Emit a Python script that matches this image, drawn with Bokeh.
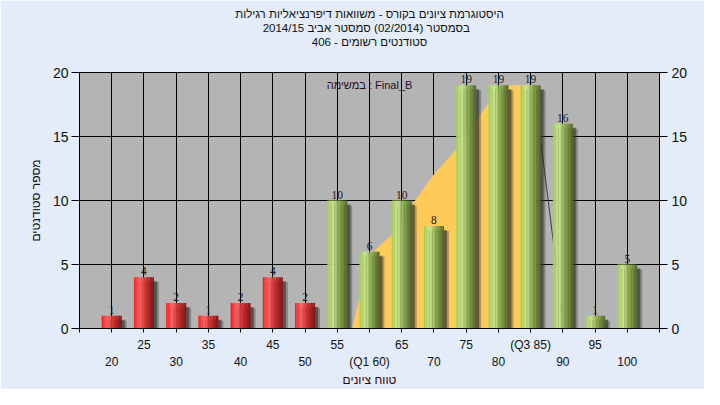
import numpy as np
from bokeh.plotting import figure
from bokeh.models import (ColumnDataSource, LinearAxis, FixedTicker, Title,
                          Label, LabelSet, Range1d)
from bokeh.embed import file_html
from bokeh.resources import INLINE

# ---------------- data ----------------
grades = [20, 25, 30, 35, 40, 45, 50, 55, 60, 65, 70, 75, 80, 85, 90, 95, 100]
counts = [1, 4, 2, 1, 2, 4, 2, 10, 6, 10, 8, 19, 19, 19, 16, 1, 5]
pass_grade = 55
row1_labels = {25: "25", 35: "35", 45: "45", 55: "55", 65: "65", 75: "75",
               85: "(Q3 85)", 95: "95"}
row2_labels = {20: "20", 30: "30", 40: "40", 50: "50", 60: "(Q1 60)", 70: "70",
               80: "80", 90: "90", 100: "100"}
y_ticks = [0, 5, 10, 15, 20]
# inter-quartile band (yellow) and tail line
band_x = [57.3, 60.0, 63.6, 66.8, 69.9, 73.3, 78.3, 81.9, 85.0, 85.0]
band_y = [0.0, 5.7, 7.4, 9.8, 12.0, 13.9, 17.5, 19.0, 19.0, 0.0]
tail_x = [85.5, 90.2]
tail_y = [19.0, 0.0]

title_lines = ["היסטוגרמת ציונים בקורס - משוואות דיפרנציאליות רגילות",
               "בסמסטר  (02/2014)  סמסטר אביב 2014/15",
               "סטודנטים רשומים - 406"]
x_title = "טווח ציונים"
y_title = "מספר סטודנטים"
note_text = "במשימה : Final_B"

FONT = "Liberation Sans"

# ---------------- figure ----------------
p = figure(width=704, height=389, x_range=Range1d(15, 105), y_range=Range1d(0, 20),
           output_backend="svg", toolbar_location=None,
           min_border_left=79, min_border_right=45, min_border_top=72,
           min_border_bottom=60,
           background_fill_color="#B4B4B4", border_fill_color="#E3ECF8",
           outline_line_color="black")

p.xgrid.ticker = FixedTicker(ticks=grades)
p.ygrid.ticker = FixedTicker(ticks=y_ticks)
for g in (p.xgrid[0], p.ygrid[0]):
    g.grid_line_color = "black"
    g.grid_line_width = 1
    g.grid_line_alpha = 1.0

# left y axis
ya = p.yaxis[0]
ya.ticker = FixedTicker(ticks=y_ticks)
ya.major_tick_out = 8
ya.major_tick_in = 0
ya.minor_tick_line_color = None
ya.major_label_text_font = FONT
ya.major_label_text_font_size = "14px"
ya.major_label_text_color = "#111111"
ya.major_label_standoff = 3
ya.axis_line_color = "black"
ya.major_tick_line_color = "black"
ya.axis_label = y_title
ya.axis_label_text_font = FONT
ya.axis_label_text_font_size = "12px"
ya.axis_label_text_font_style = "normal"
ya.axis_label_text_color = "#111111"
ya.axis_label_standoff = 7

# right y axis
yr = LinearAxis(ticker=FixedTicker(ticks=y_ticks), major_tick_out=8, major_tick_in=0,
                minor_tick_line_color=None, major_label_text_font=FONT,
                major_label_text_font_size="14px", major_label_text_color="#111111",
                major_label_standoff=4, axis_line_color="black",
                major_tick_line_color="black")
p.add_layout(yr, "right")

# x axis row 1 (with tick marks)
xa = p.xaxis[0]
xa.ticker = FixedTicker(ticks=[15] + grades + [105])
overrides = {15: "", 105: ""}
for g in grades:
    overrides[g] = row1_labels.get(g, "")
xa.major_label_overrides = overrides
xa.major_tick_out = 4
xa.major_tick_in = 0
xa.minor_tick_line_color = None
xa.axis_line_color = "black"
xa.major_tick_line_color = "black"
xa.major_label_text_font = FONT
xa.major_label_text_font_size = "12px"
xa.major_label_text_color = "#111111"
xa.major_label_standoff = 5

# x axis row 2 (labels only)
xb = LinearAxis(ticker=FixedTicker(ticks=list(row2_labels.keys())),
                major_label_overrides=row2_labels,
                axis_line_color=None, major_tick_line_color=None,
                minor_tick_line_color=None, major_tick_out=0, major_tick_in=0,
                major_label_text_font=FONT, major_label_text_font_size="12px",
                major_label_text_color="#111111", major_label_standoff=0,
                axis_label=x_title, axis_label_text_font=FONT,
                axis_label_text_font_size="12px", axis_label_text_font_style="normal",
                axis_label_text_color="#300010", axis_label_standoff=1)
p.add_layout(xb, "below")

# spacer between the frame and the title block
p.add_layout(Title(text=" ", text_font_size="11.5px", text_line_height=0.67,
                   standoff=11), "above")
# title lines (closest to the frame added first)
for line in reversed(title_lines):
    p.add_layout(Title(text=line, align="center", offset=-9, text_font=FONT,
                       text_font_size="11.5px", text_font_style="normal",
                       text_color="#111111", text_line_height=0.67, standoff=0),
                 "above")

# ---------------- marks ----------------
# yellow inter-quartile band
p.patch(band_x, band_y, fill_color="#FFCA58", line_color=None)
p.line(tail_x, tail_y, line_color="#3a3a3a", line_width=1)

BAR_W = 3.1
px_x = 90.0 / 580.0   # data units per pixel (x)
px_y = 20.0 / 257.0   # data units per pixel (y)

# shadows
sx1 = [g + 3 * px_x for g in grades]
st1 = [c - 4 * px_y for c in counts]
sx2 = [g + 5 * px_x for g in grades]
st2 = [c - 5 * px_y for c in counts]
p.vbar(x=sx2, top=st2, bottom=0, width=BAR_W, fill_color="#303030",
       fill_alpha=0.35, line_color=None)
p.vbar(x=sx1, top=st1, bottom=0, width=BAR_W, fill_color="#303030",
       fill_alpha=0.6, line_color=None)


def interp_color(stops, t):
    for (t0, c0), (t1, c1) in zip(stops[:-1], stops[1:]):
        if t0 <= t <= t1:
            f = (t - t0) / (t1 - t0) if t1 > t0 else 0
            c = [int(round(a + (b - a) * f)) for a, b in zip(c0, c1)]
            return "#%02x%02x%02x" % tuple(c)
    return "#%02x%02x%02x" % stops[-1][1]


red_stops = [(0.0, (250, 20, 20)), (0.3, (255, 100, 100)), (0.6, (210, 45, 45)),
             (1.0, (125, 20, 20))]
green_stops = [(0.0, (160, 205, 80)), (0.3, (205, 230, 145)), (0.6, (140, 172, 80)),
               (1.0, (80, 102, 40))]

N = 14
strip_x, strip_top, strip_col = [], [], []
for g, c in zip(grades, counts):
    stops = red_stops if g < pass_grade else green_stops
    for k in range(N):
        t = (k + 0.5) / N
        strip_x.append(g - BAR_W / 2 + t * BAR_W)
        strip_top.append(c)
        strip_col.append(interp_color(stops, t))
strips = ColumnDataSource(dict(x=strip_x, top=strip_top, color=strip_col))
p.vbar(x="x", top="top", bottom=0, width=BAR_W / N * 1.08, fill_color="color",
       line_color=None, source=strips)

# value labels
lab_src = ColumnDataSource(dict(x=grades, y=counts, text=[str(c) for c in counts]))
p.add_layout(LabelSet(x="x", y="y", text="text", source=lab_src, y_offset=2,
                      text_align="center", text_baseline="bottom",
                      text_font=FONT, text_font_size="11.5px",
                      text_color="#1a1a1a"))

p.add_layout(Label(x=60, y=19.0, text=note_text, text_align="center",
                   text_baseline="middle", text_font=FONT, text_font_size="11px",
                   text_color="#2a0a2a"))

html = file_html(p, INLINE, title="histogram")
with open("out.html", "w", encoding="utf-8") as f:
    f.write(html)
